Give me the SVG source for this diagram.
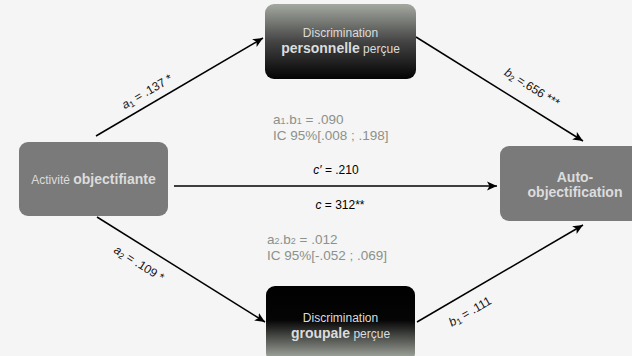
<svg xmlns="http://www.w3.org/2000/svg" width="632" height="356" viewBox="0 0 632 356">
<style>
text{font-family:"Liberation Sans",Arial,sans-serif}
.conn{stroke:#000;stroke-width:1.5;fill:none;marker-end:url(#arr)}
.lbl{font-size:12px;fill:#111}
.stat{font-size:13.5px;fill:#8c9189}
.mid{font-size:12px;fill:#000;text-anchor:middle}
.wt{fill:#dcdcdc;text-anchor:middle}
.gbox{fill:#7a7a7a}
</style>
<defs>
<marker id="arr" markerUnits="userSpaceOnUse" markerWidth="11" markerHeight="10" refX="10" refY="5" orient="auto">
<path d="M0,0.5 L10,5 L0,9.5 L2.5,5 Z" fill="#000"/>
</marker>
<linearGradient id="gTop" x1="0" y1="0" x2="0" y2="1">
<stop offset="0" stop-color="#a4a9a0"/>
<stop offset="0.5" stop-color="#444"/>
<stop offset="1" stop-color="#030303"/>
</linearGradient>
<linearGradient id="gBot" x1="0" y1="0" x2="0" y2="1">
<stop offset="0" stop-color="#000"/>
<stop offset="0.45" stop-color="#050505"/>
<stop offset="0.95" stop-color="#a2a79e"/>
</linearGradient>
</defs>
<rect width="632" height="356" fill="#f5f5f5"/>
<g id="connectors">
<line class="conn" x1="96" y1="136" x2="263" y2="38"/>
<line class="conn" x1="416" y1="37" x2="583" y2="141"/>
<line class="conn" x1="97" y1="217" x2="265" y2="322"/>
<line class="conn" x1="417" y1="322" x2="583" y2="225"/>
<line class="conn" x1="174" y1="186" x2="497" y2="186"/>
<text class="lbl" text-anchor="middle" transform="translate(149,95) rotate(-30.4)"><tspan font-style="italic">a</tspan><tspan font-size="8.5" dy="2">1</tspan><tspan dy="-2"> = .137 *</tspan></text>
<text class="lbl" text-anchor="middle" transform="translate(530,91) rotate(31.9)"><tspan font-style="italic">b</tspan><tspan font-size="8.5" dy="2">2</tspan><tspan dy="-2"> =.656 ***</tspan></text>
<text class="lbl" text-anchor="middle" transform="translate(137,267) rotate(32)"><tspan font-style="italic">a</tspan><tspan font-size="8.5" dy="2">2</tspan><tspan dy="-2"> = .109 *</tspan></text>
<text class="lbl" text-anchor="middle" transform="translate(472,315) rotate(-30.3)"><tspan font-style="italic">b</tspan><tspan font-size="8.5" dy="2">1</tspan><tspan dy="-2"> = .111</tspan></text>
<text class="mid" x="336" y="174"><tspan font-style="italic">c′</tspan> = .210</text>
<text class="mid" x="340" y="209"><tspan font-style="italic">c</tspan> = 312**</text>
<text class="stat" x="273" y="124">a<tspan font-size="9">1</tspan>.b<tspan font-size="9">1</tspan> = .090</text>
<text class="stat" x="273" y="140">IC 95%[.008 ; .198]</text>
<text class="stat" x="267" y="244">a<tspan font-size="9">2</tspan>.b<tspan font-size="9">2</tspan> = .012</text>
<text class="stat" x="267" y="260">IC 95%[-.052 ; .069]</text>
</g>
<g id="node-activite">
<rect class="gbox" x="19" y="142" width="149" height="74" rx="9"/>
<text class="wt" x="93.5" y="184" fill="#e6e6e6"><tspan font-size="12">Activité </tspan><tspan font-size="14" font-weight="bold">objectifiante</tspan></text>
</g>
<g id="node-personnelle">
<rect x="265" y="4" width="151" height="75" rx="9" fill="url(#gTop)"/>
<text class="wt" x="340.5" y="37" font-size="12">Discrimination</text>
<text class="wt" x="340.5" y="53"><tspan font-size="14" font-weight="bold">personnelle</tspan><tspan font-size="12"> perçue</tspan></text>
</g>
<g id="node-groupale">
<rect x="266" y="286" width="149" height="76" rx="9" fill="url(#gBot)"/>
<text class="wt" x="340.5" y="322" font-size="12">Discrimination</text>
<text class="wt" x="340.5" y="338"><tspan font-size="14" font-weight="bold">groupale</tspan><tspan font-size="12"> perçue</tspan></text>
</g>
<g id="node-auto">
<rect class="gbox" x="500" y="146" width="150" height="75" rx="9"/>
<text class="wt" x="575" y="182" font-size="14" font-weight="bold" fill="#e6e6e6">Auto-</text>
<text class="wt" x="575" y="197" font-size="14" font-weight="bold" fill="#e6e6e6">objectification</text>
</g>
</svg>
